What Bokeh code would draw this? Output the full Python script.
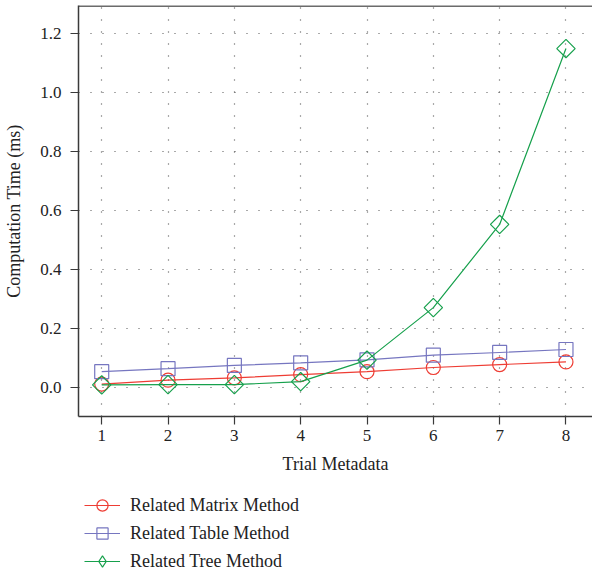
import math
from bokeh.plotting import figure
from bokeh.models import Legend, LegendItem, FixedTicker, Span, CustomJSTickFormatter
from bokeh.layouts import column
from bokeh.embed import file_html
from bokeh.resources import INLINE

trials = [1, 2, 3, 4, 5, 6, 7, 8]
matrix_ms = [0.012, 0.025, 0.033, 0.044, 0.054, 0.068, 0.078, 0.087]
table_ms = [0.054, 0.064, 0.075, 0.084, 0.094, 0.11, 0.119, 0.129]
tree_ms = [0.009, 0.01, 0.01, 0.02, 0.093, 0.271, 0.553, 1.149]
y_ticks = [0.0, 0.2, 0.4, 0.6, 0.8, 1.0, 1.2]
series_names = ["Related Matrix Method", "Related Table Method", "Related Tree Method"]

FONT = "Liberation Serif"
AX = "#3a3a3a"
TXT = "#222222"
RED, BLUE, GREEN = "#ee3d34", "#7676c0", "#16a04c"

p = figure(width=592, height=485, output_backend="svg", toolbar_location=None,
           x_range=(0.65, 8.4), y_range=(-0.098, 1.295),
           min_border_left=78, min_border_right=0, min_border_top=5, min_border_bottom=69)
p.outline_line_color = None

for ax in (p.xaxis[0], p.yaxis[0]):
    ax.axis_line_color = AX
    ax.axis_line_width = 1.5
    ax.major_tick_line_color = AX
    ax.major_tick_line_width = 1.2
    ax.major_tick_out = 8
    ax.major_tick_in = 0
    ax.minor_tick_line_color = None
    ax.major_label_text_font = FONT
    ax.major_label_text_font_size = "17px"
    ax.major_label_text_color = TXT
    ax.axis_label_text_font = FONT
    ax.axis_label_text_font_size = "18px"
    ax.axis_label_text_font_style = "normal"
    ax.axis_label_text_color = TXT

p.xaxis.ticker = FixedTicker(ticks=trials)
p.yaxis.ticker = FixedTicker(ticks=y_ticks)
p.yaxis.formatter = CustomJSTickFormatter(code="return tick.toFixed(1);")
p.xaxis.major_label_standoff = 5
p.yaxis.major_label_standoff = 9
p.xaxis.axis_label_standoff = 10
p.yaxis.axis_label_standoff = 13
p.xaxis.axis_label = "Trial Metadata"
p.yaxis.axis_label = "Computation Time (ms)"

p.add_layout(Span(location=1.293, dimension="width", line_color=AX, line_width=1.5))

p.grid.grid_line_color = "#555555"
p.grid.grid_line_dash = "1 11"
p.grid.grid_line_width = 1.2

styles = [
    dict(color=RED, marker="circle", size=14, angle=0.0, leg_marker="circle", leg_size=14),
    dict(color=BLUE, marker="square", size=14, angle=0.0, leg_marker="square", leg_size=14),
    dict(color=GREEN, marker="square", size=13, angle=math.pi / 4, leg_marker="diamond", leg_size=19),
]
all_series = [matrix_ms, table_ms, tree_ms]

for ys, st in zip(all_series, styles):
    p.line(trials, ys, color=st["color"], line_width=1.2)
    p.scatter(trials, ys, marker=st["marker"], size=st["size"], angle=st["angle"],
              line_color=st["color"], fill_color=None, line_width=1.2)

# legend panel (its own renderers lie outside the visible range; only the legend shows)
lg = figure(width=592, height=88, output_backend="svg", toolbar_location=None,
            x_range=(100, 101), y_range=(100, 101),
            x_axis_location=None, y_axis_location=None,
            min_border_left=72, min_border_right=0, min_border_top=0, min_border_bottom=0)
lg.grid.visible = False
lg.outline_line_color = None

items = []
for name, ys, st in zip(series_names, all_series, styles):
    r1 = lg.line(trials, ys, color=st["color"], line_width=1.2)
    r2 = lg.scatter(trials, ys, marker=st["leg_marker"], size=st["leg_size"],
                    line_color=st["color"], fill_color=None, line_width=1.2)
    items.append(LegendItem(label=name, renderers=[r1, r2]))

legend = Legend(items=items, location="top_left", orientation="vertical")
legend.label_text_font = FONT
legend.label_text_font_size = "18px"
legend.label_text_color = TXT
legend.border_line_color = None
legend.background_fill_color = None
legend.glyph_width = 36
legend.glyph_height = 28
legend.label_height = 28
legend.spacing = 0
legend.padding = 0
legend.margin = 6
legend.label_standoff = 10
lg.add_layout(legend)

layout = column(p, lg, spacing=0)
open("out.html", "w").write(file_html(layout, INLINE))
